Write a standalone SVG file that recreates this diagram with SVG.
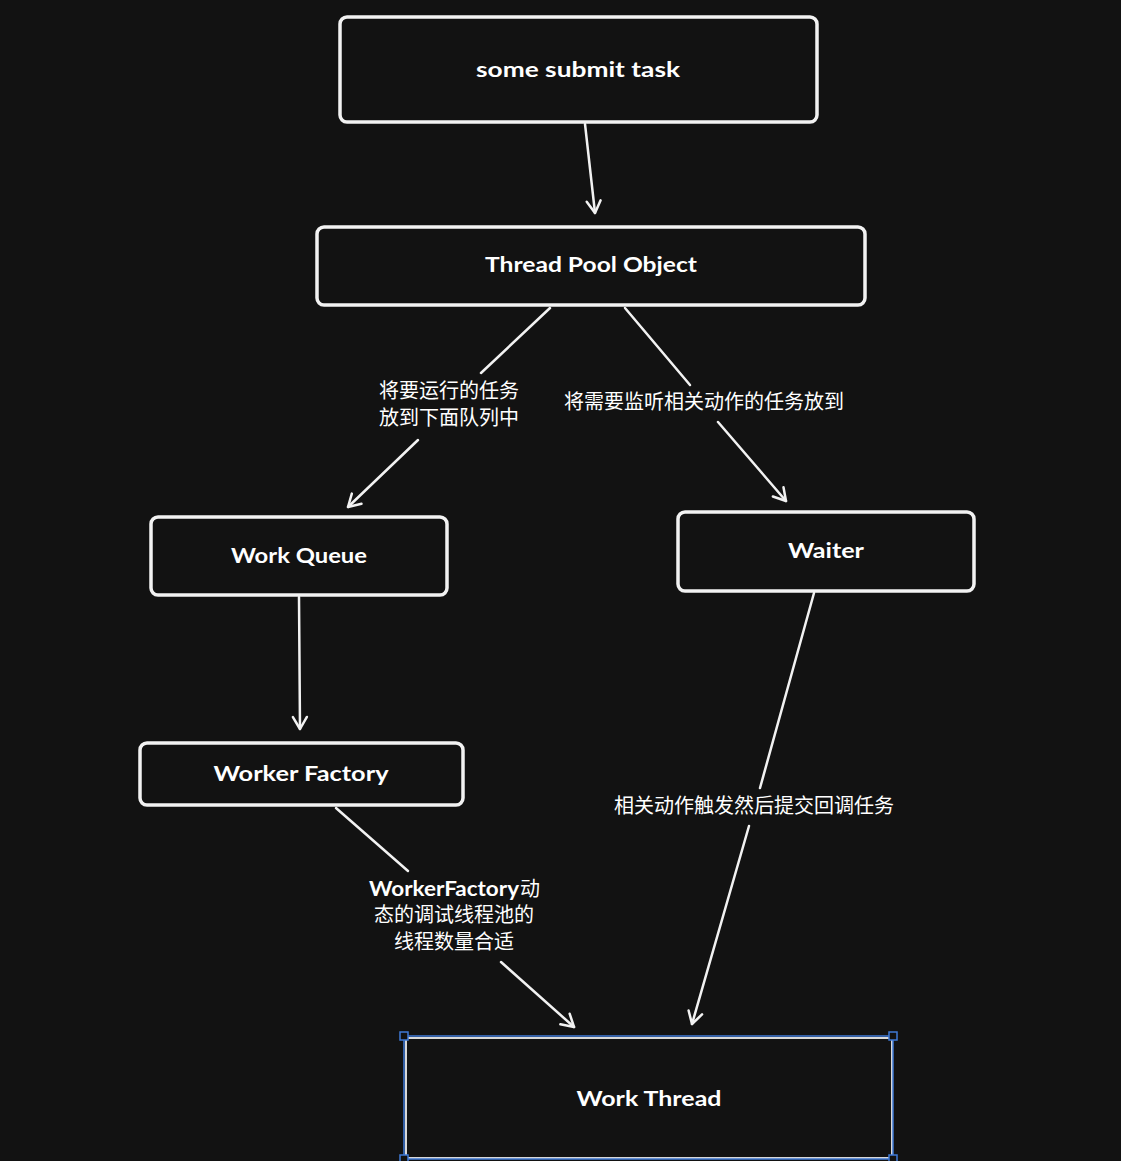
<svg xmlns="http://www.w3.org/2000/svg" width="1121" height="1161" viewBox="0 0 1121 1161">
<defs>
<style>
.box{fill:#121212;stroke:#f2f2f2;stroke-width:3.5}
.en{font-family:"Lato","Noto Sans",sans-serif;font-weight:bold;font-size:20px;fill:#ffffff;text-anchor:middle}
.cn{font-family:"Noto Sans CJK SC",sans-serif;font-size:20px;fill:#ffffff;text-anchor:middle}
.edge{fill:none;stroke:#f2f2f2;stroke-width:2.5;stroke-linecap:round}
.head{fill:none;stroke:#f2f2f2;stroke-width:2.5;stroke-linecap:round;stroke-linejoin:round}
.handle{fill:#121212;stroke:#3f7ad6;stroke-width:1.5}
</style>
<marker id="arr" viewBox="0 0 20 20" refX="16" refY="10" markerWidth="20" markerHeight="20" markerUnits="userSpaceOnUse" orient="auto">
<path class="head" d="M4,3 L16,10 L4,17"/>
</marker>
</defs>
<rect width="1121" height="1161" fill="#121212"/>
<g id="connectors">
<path class="edge" d="M585,124 L595,213" marker-end="url(#arr)"/>
<path class="edge" d="M550,308 L481,373"/>
<path class="edge" d="M418,440 L348,507" marker-end="url(#arr)"/>
<path class="edge" d="M625,308 L690,385"/>
<path class="edge" d="M718,422 L786,501" marker-end="url(#arr)"/>
<path class="edge" d="M299,597 L300,729" marker-end="url(#arr)"/>
<path class="edge" d="M336,808 L408,871"/>
<path class="edge" d="M501,962 L574,1027" marker-end="url(#arr)"/>
<path class="edge" d="M814,593 L760,788"/>
<path class="edge" d="M749,826 L692,1024" marker-end="url(#arr)"/>
<text class="cn" x="449" y="398">将要运行的任务</text>
<text class="cn" x="449" y="425">放到下面队列中</text>
<text class="cn" x="704" y="409">将需要监听相关动作的任务放到</text>
<text class="en" x="369" y="896" style="text-anchor:start" textLength="150" lengthAdjust="spacingAndGlyphs">WorkerFactory</text>
<text class="cn" x="520" y="896" style="text-anchor:start">动</text>
<text class="cn" x="454" y="922">态的调试线程池的</text>
<text class="cn" x="454" y="949">线程数量合适</text>
<text class="cn" x="754" y="813">相关动作触发然后提交回调任务</text>
</g>
<g id="node-submit">
<rect class="box" x="340" y="17" width="477" height="105" rx="7"/>
<text class="en" x="578" y="77" textLength="204" lengthAdjust="spacingAndGlyphs">some submit  task</text>
</g>
<g id="node-pool">
<rect class="box" x="317" y="227" width="548" height="78" rx="7"/>
<text class="en" x="591" y="272" textLength="212" lengthAdjust="spacingAndGlyphs">Thread Pool Object</text>
</g>
<g id="node-queue">
<rect class="box" x="151" y="517" width="296" height="78" rx="7"/>
<text class="en" x="299" y="563" textLength="136" lengthAdjust="spacingAndGlyphs">Work Queue</text>
</g>
<g id="node-waiter">
<rect class="box" x="678" y="512" width="296" height="79" rx="7"/>
<text class="en" x="826" y="558" textLength="76" lengthAdjust="spacingAndGlyphs">Waiter</text>
</g>
<g id="node-factory">
<rect class="box" x="140" y="743" width="323" height="62" rx="7"/>
<text class="en" x="301" y="781" textLength="175" lengthAdjust="spacingAndGlyphs">Worker Factory</text>
</g>
<g id="node-thread">
<rect x="406" y="1038" width="486" height="120" fill="#121212" stroke="#d8d8d8" stroke-width="2"/>
<rect x="404" y="1036" width="489" height="123" fill="none" stroke="#3f7ad6" stroke-width="1.5"/>
<rect class="handle" x="400" y="1032" width="8" height="8"/>
<rect class="handle" x="889" y="1032" width="8" height="8"/>
<rect class="handle" x="400" y="1155" width="8" height="8"/>
<rect class="handle" x="889" y="1155" width="8" height="8"/>
<text class="en" x="649" y="1106" textLength="145" lengthAdjust="spacingAndGlyphs">Work Thread</text>
</g>
</svg>
